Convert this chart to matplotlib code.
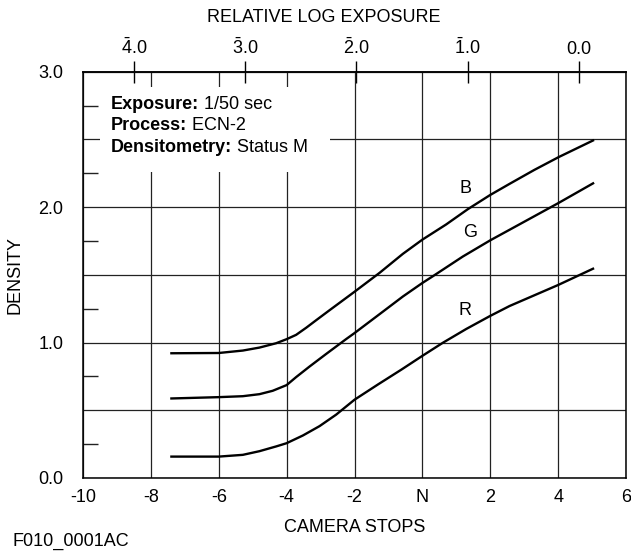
import matplotlib
matplotlib.use('Agg')
import matplotlib.pyplot as plt
from matplotlib.patches import Rectangle

plt.rcParams['font.family'] = ['Liberation Sans', 'DejaVu Sans']
plt.rcParams['mathtext.fontset'] = 'custom'
plt.rcParams['mathtext.rm'] = 'Liberation Sans'
plt.rcParams['mathtext.it'] = 'Liberation Sans:italic'
plt.rcParams['mathtext.bf'] = 'Liberation Sans:bold'
plt.rcParams['axes.unicode_minus'] = False

# ---- data ----
b_stops = [-7.43, -6.0, -5.29, -4.80, -4.31, -4.0, -3.72, -3.42, -3.13, -2.74, -2.0, -1.26,
           -0.575, 0.0, 0.70, 1.34, 2.0, 2.57, 3.3, 4.02, 5.06]
b_dens = [0.921, 0.923, 0.941, 0.963, 0.995, 1.025, 1.057, 1.110, 1.165, 1.238, 1.375, 1.515,
          1.655, 1.760, 1.872, 1.985, 2.090, 2.172, 2.275, 2.370, 2.496]

g_stops = [-7.43, -6.0, -5.29, -4.80, -4.41, -4.0, -3.72, -3.33, -2.84, -2.25, -2.0, -1.26,
           -0.575, 0.0, 0.31, 1.19, 2.0, 2.57, 4.0, 5.06]
g_dens = [0.587, 0.597, 0.604, 0.619, 0.644, 0.686, 0.745, 0.822, 0.915, 1.025, 1.070, 1.210,
          1.340, 1.440, 1.490, 1.635, 1.755, 1.833, 2.029, 2.180]

r_stops = [-7.43, -6.0, -5.29, -4.80, -4.31, -4.0, -3.52, -3.03, -2.54, -2.0, -1.3, -0.62,
           0.0, 0.60, 1.29, 2.0, 2.57, 4.0, 5.06]
r_dens = [0.158, 0.158, 0.171, 0.198, 0.233, 0.257, 0.314, 0.383, 0.468, 0.578, 0.692, 0.800,
          0.902, 0.998, 1.100, 1.197, 1.270, 1.425, 1.549]

curve_names = ['B', 'G', 'R']
label_pos_stops = [1.27, 1.41, 1.27]
label_pos_dens = [2.137, 1.812, 1.235]

x_ticks = [-10, -8, -6, -4, -2, 0, 2, 4, 6]
x_ticklabels = ['-10', '-8', '-6', '-4', '-2', 'N', '2', '4', '6']
y_major = [0.0, 0.5, 1.0, 1.5, 2.0, 2.5, 3.0]
y_ticklabels = ['0.0', '', '1.0', '', '2.0', '', '3.0']
y_minor = [0.25, 0.75, 1.25, 1.75, 2.25, 2.75]

log_exposure = [-4, -3, -2, -1, 0]
log_labels = [r'$\bar{\mathrm{4}}$.0', r'$\bar{\mathrm{3}}$.0', r'$\bar{\mathrm{2}}$.0',
              r'$\bar{\mathrm{1}}$.0', '0.0']
log_zero_stop = 4.607     # camera stop where relative log exposure = 0.0
stops_per_log = 3.276     # camera stops per 1.0 log exposure (as drawn)

info_keys = ['Exposure:', 'Process:', 'Densitometry:']
info_vals = ['1/50 sec', 'ECN-2', 'Status M']

FS = 13

fig = plt.figure(figsize=(6.31, 5.54), dpi=100)
ax = fig.add_axes([83 / 631, 76 / 554, 543 / 631, 406.3 / 554])
ax.set_xlim(-10, 6)
ax.set_ylim(0, 3)

ax.set_xticks(x_ticks)
ax.set_xticklabels(x_ticklabels, fontsize=FS)
ax.set_yticks(y_major)
ax.set_yticklabels(y_ticklabels, fontsize=FS)
ax.set_yticks(y_minor, minor=True)
ax.tick_params(axis='x', which='major', length=0, pad=8)
ax.tick_params(axis='y', which='major', length=0, pad=14)
ax.tick_params(axis='y', which='minor', direction='in', length=11, width=1.0, color='#222222')
ax.tick_params(axis='x', which='minor', length=0)
ax.set_axisbelow(True)
ax.grid(True, which='major', color='#222222', linewidth=0.9)
for sp in ax.spines.values():
    sp.set_linewidth(1.1)
    sp.set_color('black')

# white info box covering the grid
ax.add_patch(Rectangle((-9.5, 2.26), 6.79, 0.63, facecolor='white', edgecolor='none', zorder=1.5))

for s, d in [(b_stops, b_dens), (g_stops, g_dens), (r_stops, r_dens)]:
    ax.plot(s, d, color='black', linewidth=1.7, zorder=3, solid_capstyle='butt',
            solid_joinstyle='round')

for name, xs, ys in zip(curve_names, label_pos_stops, label_pos_dens):
    ax.text(xs, ys, name, fontsize=FS, ha='center', va='center', zorder=4)

info_y = [2.76, 2.60, 2.443]
for k, v, yy in zip(info_keys, info_vals, info_y):
    t = ax.text(-9.176, yy, k, fontsize=FS, fontweight='bold', ha='left', va='center', zorder=4)
    ax.annotate(' ' + v, xy=(1, 0), xycoords=t, fontsize=FS, ha='left', va='bottom', zorder=4)

def fwd(s):
    return (s - log_zero_stop) / stops_per_log

def inv(l):
    return l * stops_per_log + log_zero_stop

sec = ax.secondary_xaxis('top', functions=(fwd, inv))
sec.set_xticks(log_exposure)
sec.set_xticklabels(log_labels, fontsize=FS)
sec.tick_params(direction='inout', length=15.5, width=1.0, pad=2)
sec.spines['top'].set_linewidth(1.1)

fig.text(324 / 631, 1 - 17 / 554, 'RELATIVE LOG EXPOSURE', fontsize=FS, ha='center', va='center')
fig.text(354.5 / 631, 1 - 527 / 554, 'CAMERA STOPS', fontsize=FS, ha='center', va='center')
fig.text(15 / 631, 1 - 275 / 554, 'DENSITY', fontsize=FS, rotation=90, ha='center', va='center')
fig.text(12 / 631, 1 - 541 / 554, 'F010_0001AC', fontsize=FS, ha='left', va='center')

fig.savefig('out.png', dpi=100)
